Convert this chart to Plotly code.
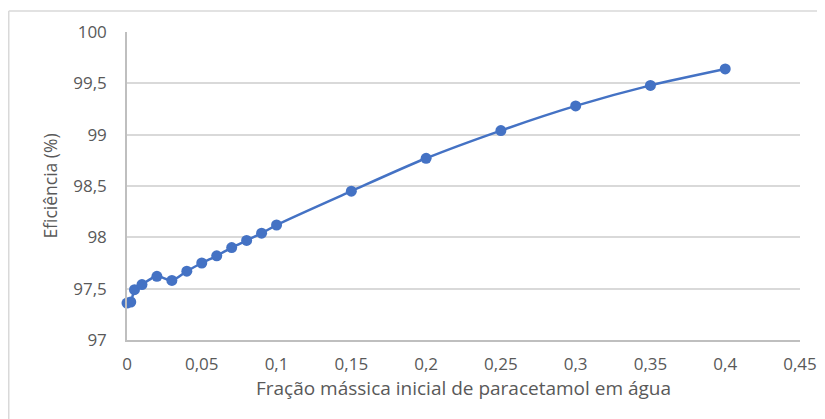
import plotly.graph_objects as go

fracao = [0, 0.0025, 0.005, 0.01, 0.02, 0.03, 0.04, 0.05, 0.06, 0.07, 0.08, 0.09, 0.1,
          0.15, 0.2, 0.25, 0.3, 0.35, 0.4]
eficiencia = [97.36, 97.37, 97.49, 97.54, 97.62, 97.58, 97.67, 97.75, 97.82, 97.90, 97.97,
              98.04, 98.12, 98.45, 98.77, 99.04, 99.28, 99.48, 99.64]

x_title = "Fração mássica inicial de paracetamol em água"
y_title = "Eficiência (%)"

OFF = 8  # page body margin
W, H = 825, 419
L, T = 127 - OFF, 32 - OFF
R = W - (800 - OFF)
B = H - (340 - OFF)
pw = W - L - R
ph = H - T - B

fig = go.Figure()
fig.add_trace(go.Scatter(
    x=fracao, y=eficiencia, mode="lines+markers",
    line=dict(color="#4472C4", width=2.5, shape="spline", smoothing=0.8),
    marker=dict(color="#4472C4", size=11),
    showlegend=False, cliponaxis=False,
))

font_family = "Open Sans, Noto Sans, sans-serif"
fig.update_layout(
    width=W, height=H,
    margin=dict(l=L, r=R, t=T, b=B, autoexpand=False),
    paper_bgcolor="white", plot_bgcolor="white",
    separators=", ",
    font=dict(family=font_family, color="#595959", size=13),
    xaxis=dict(
        range=[0, 0.45], dtick=0.05, tick0=0,
        showgrid=False, zeroline=False,
        showline=True, linecolor="#BFBFBF", linewidth=1.5,
        ticks="", ticklabelstandoff=8, automargin=False,
        tickfont=dict(size=17, color="#595959"),
        title=dict(text=x_title, font=dict(size=19, color="#595959"), standoff=8),
    ),
    yaxis=dict(
        range=[97, 100], dtick=0.5, tick0=97,
        showgrid=True, gridcolor="#D9D9D9", gridwidth=1.5,
        zeroline=False, automargin=False,
        showline=True, linecolor="#BFBFBF", linewidth=1.5,
        ticks="", ticklabelstandoff=15,
        tickfont=dict(size=17, color="#595959"),
        title=dict(text=y_title, font=dict(size=17.5, color="#595959"), standoff=11),
    ),
    shapes=[
        dict(type="line", xref="paper", yref="paper",
             x0=(0.75 - L) / pw, x1=(W + 5 - L) / pw,
             y0=(H - B - (11 - OFF)) / ph, y1=(H - B - (11 - OFF)) / ph,
             line=dict(color="#D9D9D9", width=1.5)),
        dict(type="line", xref="paper", yref="paper",
             x0=(0.75 - L) / pw, x1=(0.75 - L) / pw,
             y0=(H - B - (11 - OFF)) / ph, y1=(-B - 5) / ph,
             line=dict(color="#D9D9D9", width=1.5)),
    ],
)

fig.write_html("out.html")
